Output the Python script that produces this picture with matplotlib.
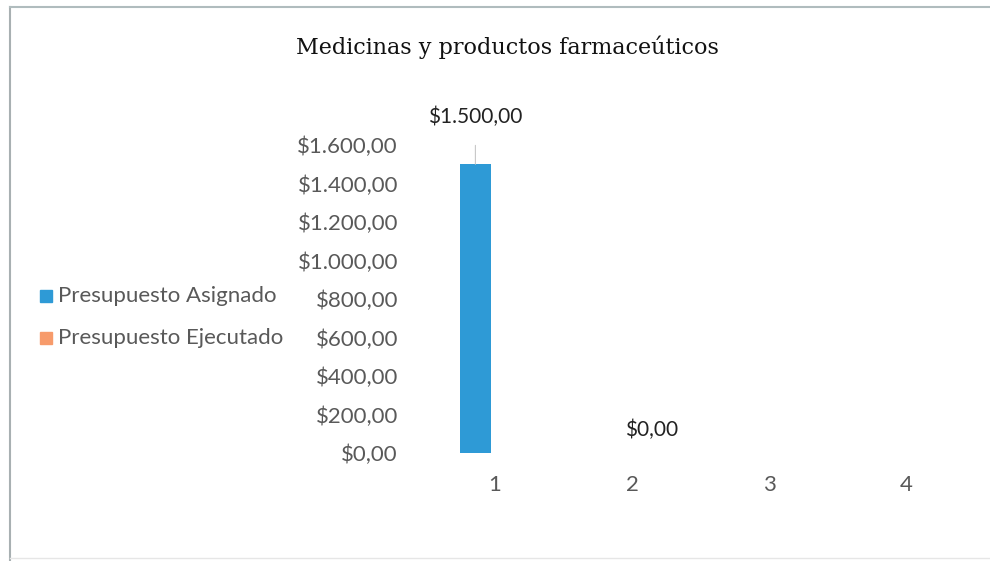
import matplotlib
matplotlib.use("Agg")
import matplotlib.pyplot as plt
from matplotlib.lines import Line2D
from matplotlib.patches import Rectangle
import numpy as np

# data
categorias = [1, 2, 3, 4]
asignado = [1500, np.nan, np.nan, np.nan]
ejecutado = [np.nan, 0, np.nan, np.nan]
yticks = [0, 200, 400, 600, 800, 1000, 1200, 1400, 1600]
titulo = "Medicinas y productos farmaceúticos"
series = ["Presupuesto Asignado", "Presupuesto Ejecutado"]

azul = "#2e9ad6"
naranja = "#f79b6b"
gris = "#595959"
fuente = "Lato"
W, H = 990, 561


def moneda(v):
    s = f"{v:,.2f}"
    s = s.replace(",", "X").replace(".", ",").replace("X", ".")
    return "$" + s


fig = plt.figure(figsize=(9.9, 5.61), dpi=100)
ax = fig.add_axes([426.5 / W, 1 - 453 / H, 548 / W, 308 / H])

x = np.array(categorias)
off = 0.143
bw = 0.226
ax.bar(x - off, asignado, bw, color=azul)
ax.bar(x + off, ejecutado, bw, color=naranja)

ax.set_xlim(0.5, 4.5)
ax.set_ylim(0, 1600)
ax.set_xticks(categorias)
ax.set_xticklabels([str(c) for c in categorias])
ax.set_yticks(yticks)
ax.set_yticklabels([moneda(v) for v in yticks])
ax.tick_params(axis="both", length=0, labelsize=16, labelcolor=gris)
ax.tick_params(axis="x", pad=16)
ax.tick_params(axis="y", pad=20.5)
for s in ax.spines.values():
    s.set_visible(False)
for t in ax.get_xticklabels() + ax.get_yticklabels():
    t.set_fontfamily(fuente)

# data labels
for xi, v in zip(x - off, asignado):
    if not np.isnan(v):
        ax.annotate(moneda(v), xy=(xi, v), xytext=(xi, v + 245), ha="center",
                    va="center", fontsize=15, color="#222222", family=fuente,
                    arrowprops=dict(arrowstyle="-", color="#c8c8c8", lw=0.8,
                                    shrinkA=11, shrinkB=0))
for xi, v in zip(x + off, ejecutado):
    if not np.isnan(v):
        ax.text(xi, v + 120, moneda(v), ha="center", va="center",
                fontsize=15, color="#222222", family=fuente)

fig.text(507 / W, 1 - 47 / H, titulo, ha="center", va="center",
         fontsize=16, family="DejaVu Serif", color="#111111")

# legend on the left
for i, (nombre, col) in enumerate(zip(series, [azul, naranja])):
    yc = 1 - (296 + 42 * i) / H
    fig.add_artist(Rectangle((40 / W, yc - 6 / H), 12 / W, 12 / H,
                             transform=fig.transFigure, color=col))
    fig.text(58 / W, yc, nombre, ha="left", va="center", fontsize=16,
             color=gris, family=fuente)

# chart frame
fig.add_artist(Line2D([9.5 / W, 9.5 / W], [0, 1 - 7 / H], color="#a8b0b2", lw=1.5))
fig.add_artist(Line2D([9.5 / W, 1], [1 - 7 / H, 1 - 7 / H], color="#b0bcbe", lw=1.5))
fig.add_artist(Line2D([9.5 / W, 1], [3 / H, 3 / H], color="#e6e6e6", lw=1))

fig.savefig("out.png", dpi=100)
